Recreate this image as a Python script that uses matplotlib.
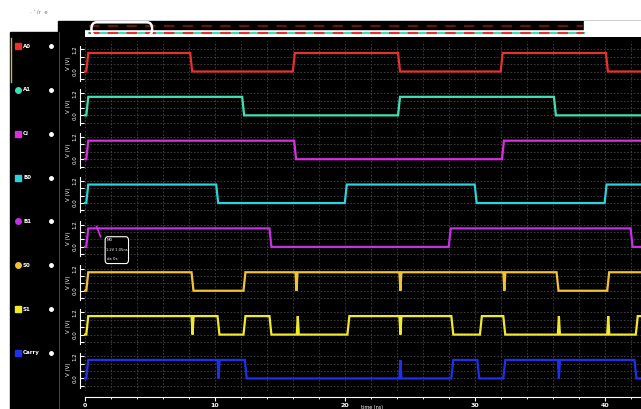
import matplotlib
matplotlib.use("Agg")
import matplotlib.pyplot as plt
from matplotlib.patches import Rectangle, FancyBboxPatch
import numpy as np

# signal names, colours and legend marker shapes
names = ["A0", "A1", "Ci", "B0", "B1", "S0", "S1", "Carry"]
colors = ["#e8302c", "#3fe0b4", "#d92ee0", "#2ad4dc",
          "#c82ee8", "#f2c233", "#f0e82a", "#1f2ff0"]
markers = ["s", "o", "s", "s", "o", "o", "s", "s"]

# edge times (ns) - each edge toggles the level, waves start low at t=0
edges = [
    [0.1, 8.1, 16.0, 24.1, 32.0, 40.1],
    [0.1, 12.1, 24.1, 36.1],
    [0.1, 16.1, 32.1],
    [0.1, 10.1, 20.0, 30.0, 40.0],
    [0.1, 14.2, 28.0, 42.0],
    [0.1, 8.2, 12.2, 36.3, 40.2],
    [0.1, 10.2, 12.2, 14.2, 20.2, 28.2, 30.4, 32.2, 42.4],
    [0.1, 12.3, 28.2, 30.2, 32.2, 42.3],
]
# short glitches (ns) - spike to the other level and back
glitches = [
    [], [], [], [], [],
    [16.2, 24.2, 32.2],
    [8.2, 16.3, 24.2, 36.4, 40.2],
    [10.2, 24.2, 36.4],
]
t_end = 42.8
xticks = [0, 10, 20, 30, 40]

W, H = 641, 409


def box(x0, y0, x1, y1):
    return [x0 / W, 1 - y1 / H, (x1 - x0) / W, (y1 - y0) / H]


def build(ed, gl, rise=0.15, gw=0.16):
    ev = sorted([(e, "e") for e in ed] + [(g, "g") for g in gl])
    t, v = [0.0], [0.0]
    cur = 0.0
    for tt, kind in ev:
        if kind == "e":
            t += [tt, tt + rise]
            v += [cur, 1 - cur]
            cur = 1 - cur
        else:
            t += [tt, tt + gw / 2, tt + gw]
            v += [cur, 1 - cur, cur]
    t.append(t_end)
    v.append(cur)
    return np.array(t), np.array(v)


fig = plt.figure(figsize=(W / 100, H / 100), dpi=100, facecolor="white")

# black panels
fig.add_artist(Rectangle((10 / W, 0), (W - 10) / W, 1 - 32 / H,
                         transform=fig.transFigure, color="black", zorder=0))
fig.add_artist(Rectangle((58 / W, 0), (W - 58) / W, 1 - 21 / H,
                         transform=fig.transFigure, color="black", zorder=0))
fig.text(30 / W, 1 - 13 / H, "\u00b7 ' \u2215r  e", fontsize=4, color="#777777")

# overview strip at the top
ov = fig.add_axes(box(85, 21, 641, 37))
ov.set_xlim(-0.3, t_end)
ov.set_ylim(0, 1)
ov.axis("off")
ov.add_patch(Rectangle((-0.3, 0), t_end + 0.3, 0.5, color="white", zorder=0))
ov.add_patch(Rectangle((-0.3, 0.5), 38.7, 0.5, color="black", zorder=0))
ov.add_patch(Rectangle((38.4, 0), 5, 1, color="white", zorder=0))
ov.plot([0, 38.4], [0.25, 0.25], color="#3fe0b4", lw=1.5)
ov.plot([0, 38.4], [0.25, 0.25], color="#e8302c", lw=1.5, dashes=(5, 4))
ov.plot([0, 38.4], [0.7, 0.7], color="#6a1010", lw=1.5, dashes=(5, 4))
ov.add_patch(FancyBboxPatch((0.2, 0.08), 4.7, 0.84,
                            boxstyle="round,pad=0,rounding_size=0.4",
                            fill=False, ec="white", lw=1.8, zorder=5))

# selection bar in the legend panel
fig.add_artist(plt.Line2D([11 / W, 11 / W], [1 - 38 / H, 1 - 82 / H],
                          transform=fig.transFigure, color="#c8b840", lw=1))
fig.add_artist(plt.Line2D([59 / W, 59 / W], [0, 1 - 32 / H],
                          transform=fig.transFigure, color="#555555", lw=0.6))

ppu = 18.5
for i in range(8):
    hi = 53 + 43.85 * i
    ax = fig.add_axes(box(80, hi - 12, 641, hi + ppu + 13))
    ax.set_facecolor("black")
    t, v = build(edges[i], glitches[i])
    ax.plot(t, v, color=colors[i], lw=1.6, solid_joinstyle="miter")
    ax.set_xlim(-0.385, t_end)
    ax.set_ylim(-13 / ppu, 1 + 12 / ppu)
    ax.set_xticks(np.arange(0, 43, 2))
    ax.set_yticks([-0.4, 0, 0.4, 0.8, 1.2])
    ax.grid(True, color="#444444", lw=0.6, dashes=(2, 2))
    for s in ["top", "right", "bottom"]:
        ax.spines[s].set_visible(False)
    ax.spines["left"].set_color("white")
    ax.spines["left"].set_bounds(-0.5, 1.4)
    ax.tick_params(axis="x", length=0, labelbottom=False)
    ax.tick_params(axis="y", colors="white", direction="in", length=3,
                   width=0.8, labelsize=4, pad=2, labelrotation=90)
    ax.set_yticklabels(["", "0.0", "", "", "1.2"], va="center")
    ax.set_ylabel("V (V)", fontsize=4, color="white", labelpad=1)

    # legend entry
    ly = 1 - (hi - 7) / H
    fig.add_artist(plt.Line2D([18 / W], [ly], marker=markers[i], ms=4,
                              color=colors[i], transform=fig.transFigure))
    fig.text(23 / W, ly, names[i], fontsize=4, color="white", va="center",
             fontweight="bold")
    fig.add_artist(plt.Line2D([51 / W], [ly], marker="o", ms=2.5,
                              color="white", transform=fig.transFigure))

    if i == 4:
        # marker readout box, kept above the row below
        ax.set_zorder(5)
        ax.plot([0.9, 1.2], [1.1, 0.55], color="#d92ee0", lw=1.2)
        ax.add_patch(FancyBboxPatch((1.55, -0.9), 1.8, 1.45,
                                    boxstyle="round,pad=0,rounding_size=0.2",
                                    fc="black", ec="white", lw=0.8,
                                    zorder=6, clip_on=False))
        ax.text(1.7, 0.3, "M0", fontsize=3, color="white", zorder=7,
                clip_on=False)
        ax.text(1.65, -0.2, "1.2V 1.05ns", fontsize=2.6, color="white",
                zorder=7, clip_on=False)
        ax.text(1.7, -0.7, "dx 0s", fontsize=2.8, color="white", zorder=7,
                clip_on=False)

# time axis
xa = fig.add_axes(box(80, 392, 641, 397))
xa.set_facecolor("black")
xa.set_xlim(-0.385, t_end)
xa.set_yticks([])
for s in ["top", "right", "left"]:
    xa.spines[s].set_visible(False)
xa.spines["bottom"].set_color("white")
xa.spines["bottom"].set_bounds(0, t_end)
xa.set_xticks(xticks)
xa.set_xticks(np.arange(0, 43, 2), minor=True)
xa.tick_params(axis="x", colors="white", labelsize=4.5, length=3, pad=1.5)
xa.tick_params(axis="x", which="minor", colors="white", length=1.5)
xa.set_xticklabels([str(x) for x in xticks], fontweight="bold")
fig.text(372 / W, 1 - 405 / H, "time (ns)", fontsize=3.5, color="white",
         ha="center", va="top")

fig.savefig("out.png", dpi=100, facecolor="white")
